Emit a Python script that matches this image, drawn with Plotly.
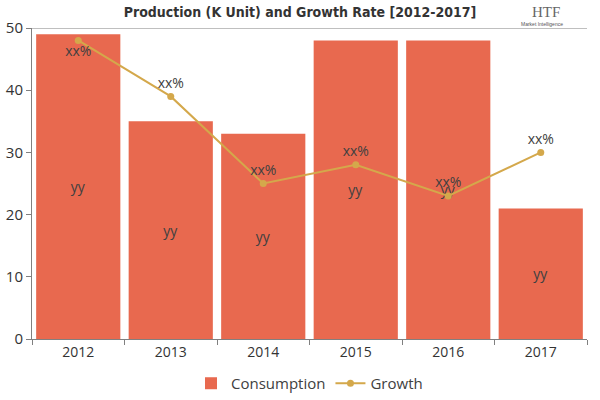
import plotly.graph_objects as go

years = ["2012", "2013", "2014", "2015", "2016", "2017"]
consumption = [49, 35, 33, 48, 48, 21]
growth = [48, 39, 25, 28, 23, 30]
bar_labels = ["yy"] * 6
growth_labels = ["xx%"] * 6
growth_label_pos = ["bottom center"] + ["top center"] * 5

fig = go.Figure()
fig.add_trace(
    go.Bar(
        x=years,
        y=consumption,
        name="Consumption",
        marker=dict(color="#E8694F", line=dict(width=0)),
        text=bar_labels,
        textposition="inside",
        insidetextanchor="middle",
        textfont=dict(color="#404040", size=14, family="Open Sans"),
    )
)
fig.add_trace(
    go.Scatter(
        x=years,
        y=growth,
        name="Growth",
        mode="lines+markers+text",
        line=dict(color="#D4A84B", width=2),
        marker=dict(color="#D4A84B", size=7),
        text=growth_labels,
        textposition=growth_label_pos,
        textfont=dict(color="#404040", size=14, family="Open Sans"),
    )
)

fig.update_layout(
    width=600,
    height=400,
    margin=dict(l=32, r=13, t=28, b=61, autoexpand=False),
    paper_bgcolor="white",
    plot_bgcolor="white",
    bargap=0.09,
    font=dict(family="Open Sans", color="#404040", size=13),
    title=dict(
        text="<b>Production (K Unit) and Growth Rate [2012-2017]</b>",
        x=0.5,
        xanchor="center",
        y=0.97,
        yanchor="middle",
        font=dict(family="DejaVu Sans Condensed", size=14, color="#333333"),
    ),
    legend=dict(
        orientation="h",
        x=0.5,
        xanchor="center",
        y=-0.09,
        yanchor="top",
        font=dict(size=15, color="#404040"),
    ),
    showlegend=True,
)
fig.update_xaxes(
    automargin=False,
    showline=True,
    linecolor="#808080",
    ticks="outside",
    tickcolor="#808080",
    ticklen=5,
    tickson="boundaries",
    showgrid=False,
    tickfont=dict(size=14, color="#333333"),
)
fig.update_yaxes(
    automargin=False,
    range=[0, 50],
    dtick=10,
    showline=True,
    mirror=False,
    linecolor="#808080",
    ticks="outside",
    tickcolor="#808080",
    ticklen=5,
    showgrid=False,
    zeroline=False,
    tickfont=dict(size=15, color="#333333"),
)
# top border line at 50
fig.add_shape(
    type="line", xref="paper", yref="y", x0=0, x1=1, y0=50, y1=50,
    line=dict(color="#808080", width=1),
)
# logo text
fig.add_annotation(
    text="HTF", xref="paper", yref="paper", x=0.955, y=1.085,
    showarrow=False, font=dict(family="Liberation Serif", size=15, color="#666666"),
)
fig.add_annotation(
    text="Market Intelligence", xref="paper", yref="paper", x=0.96, y=1.03,
    showarrow=False, font=dict(family="Liberation Sans", size=5, color="#555555"),
)

fig.write_html(
    "out.html",
    config={"displayModeBar": False},
    post_script="document.body.style.margin='0';",
)
